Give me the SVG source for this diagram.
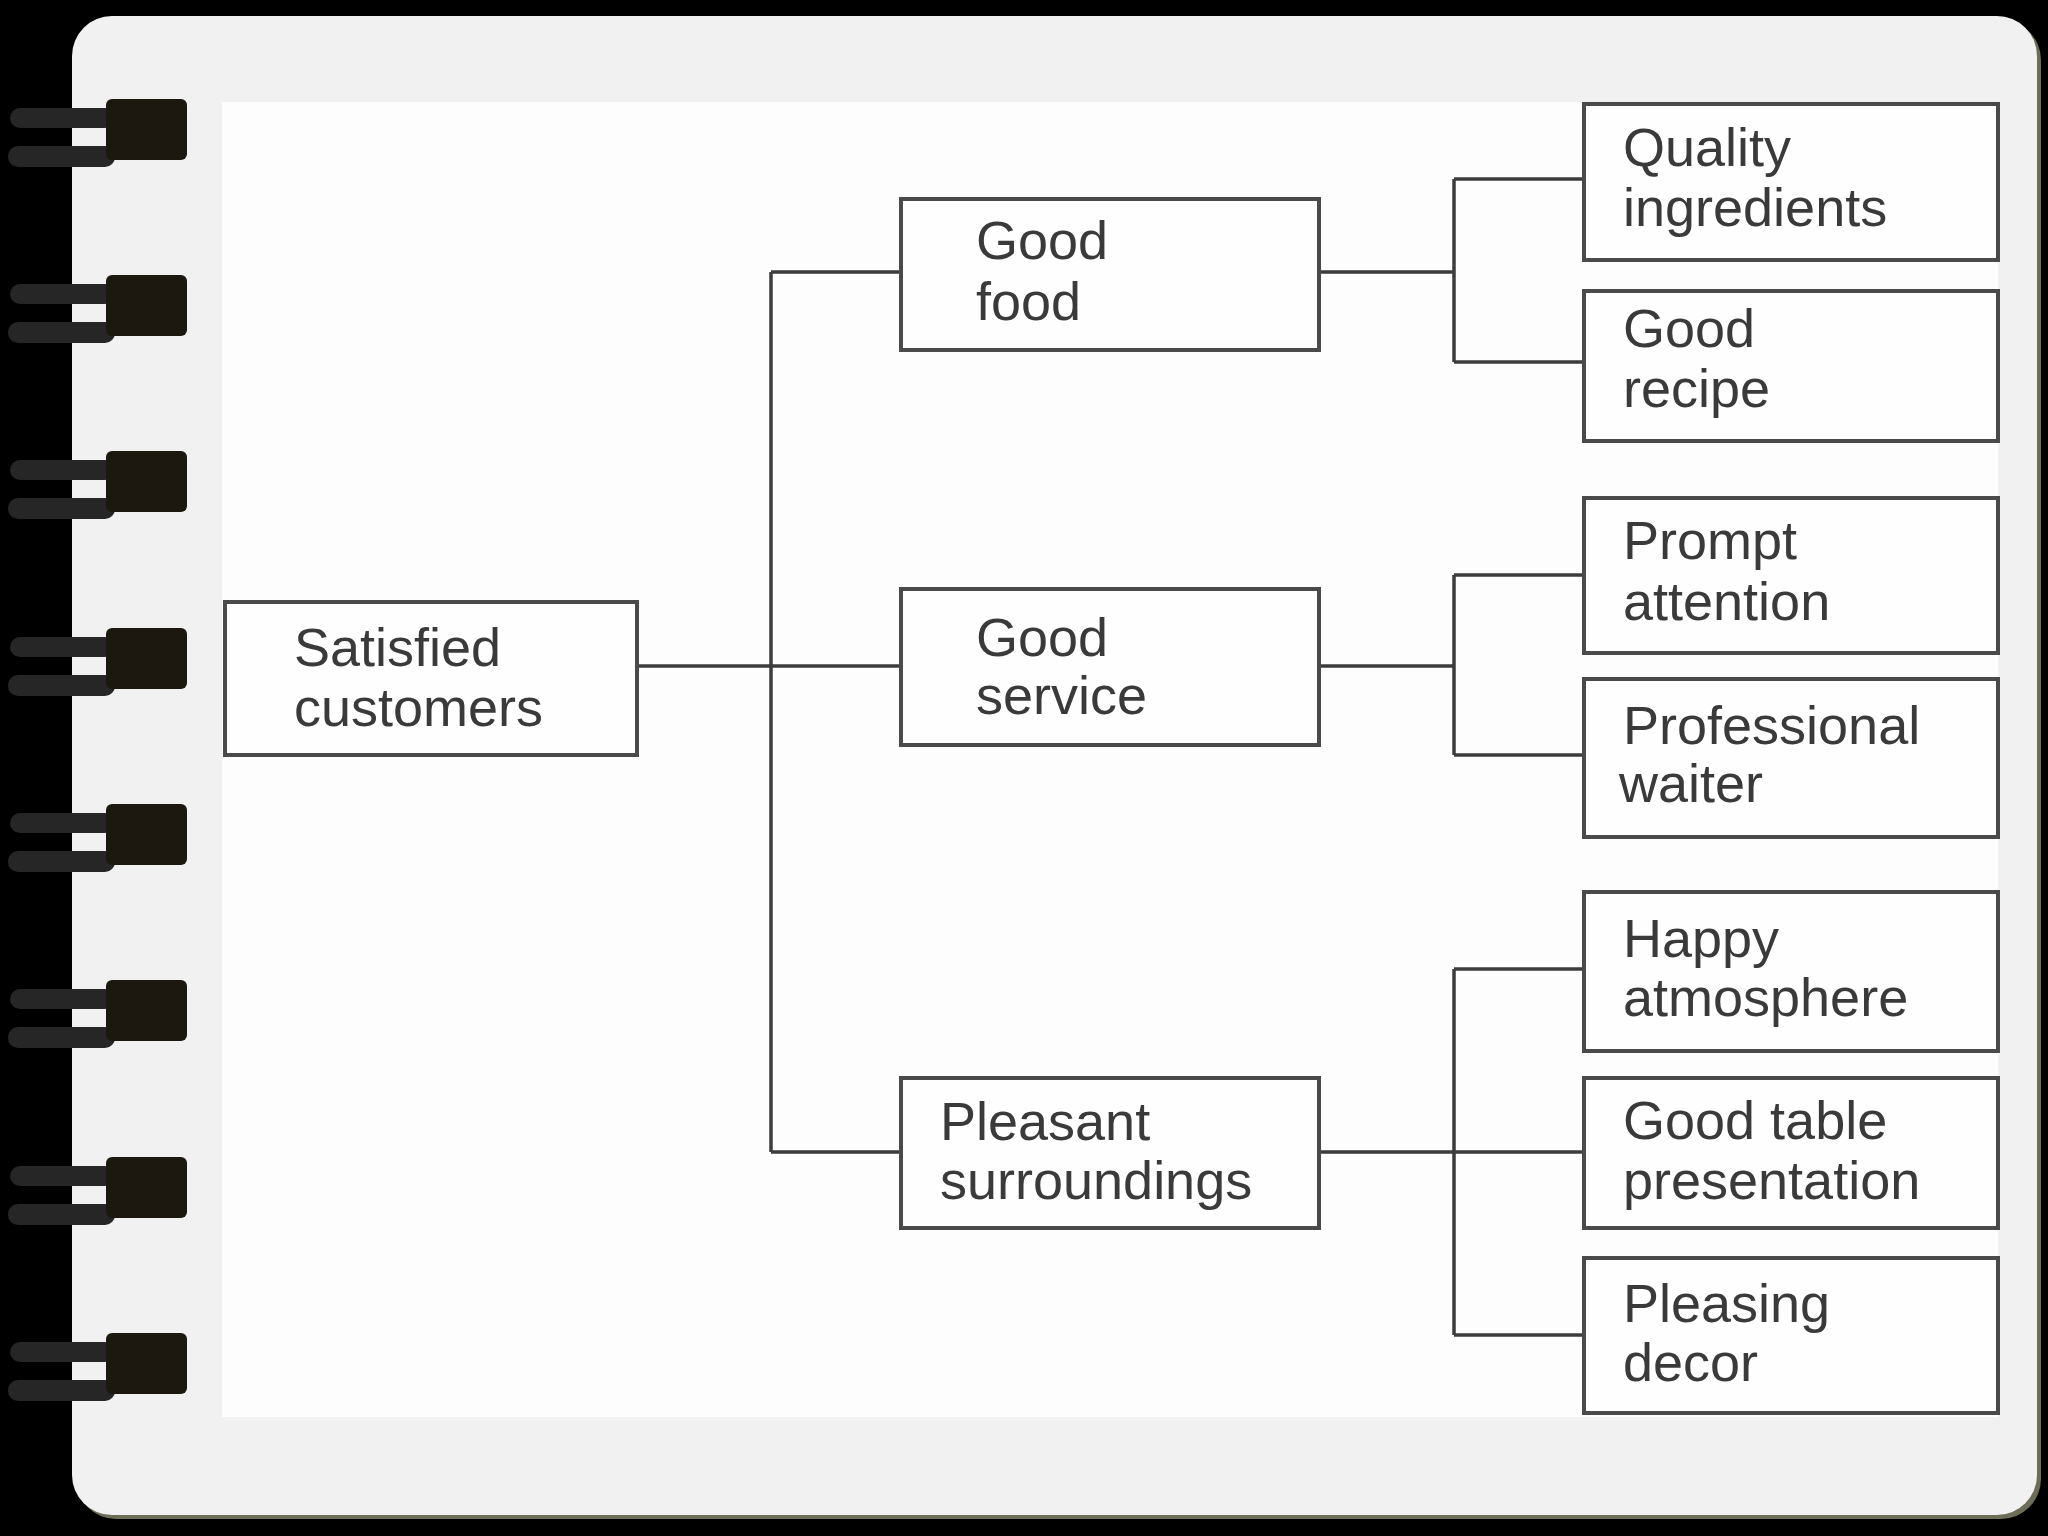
<svg xmlns="http://www.w3.org/2000/svg" width="2048" height="1536" viewBox="0 0 2048 1536">
<defs>
<style>
.box{fill:#fefefe;stroke:#4a4a4a;stroke-width:4}
.lbl{font-family:"Liberation Sans",Arial,sans-serif;font-size:54px;fill:#3a3a3a}
.conn{fill:none;stroke:#3c3c3c;stroke-width:3.5}
.blk{fill:#1c1810}
.prong{fill:#262626}
</style>
<g id="ring">
<rect class="prong" x="10" y="-23" width="105" height="20" rx="10"/>
<rect class="prong" x="8" y="15" width="107" height="21" rx="10"/>
<rect class="blk" x="106" y="-32" width="81" height="61" rx="6"/>
</g>
</defs>
<rect x="0" y="0" width="2048" height="1536" fill="#000"/>
<rect x="76" y="20" width="1965" height="1499" rx="40" fill="#6e6e58"/>
<rect x="72" y="16" width="1965" height="1499" rx="40" fill="#f1f1f1"/>
<rect x="222" y="102" width="1776" height="1315" fill="#fdfdfd"/>
<g id="rings">
<use href="#ring" y="131"/>
<use href="#ring" y="307"/>
<use href="#ring" y="483"/>
<use href="#ring" y="660"/>
<use href="#ring" y="836"/>
<use href="#ring" y="1012"/>
<use href="#ring" y="1189"/>
<use href="#ring" y="1365"/>
</g>
<g id="connectors">
<path class="conn" d="M637 666 H901"/>
<path class="conn" d="M771 272 V1152"/>
<path class="conn" d="M771 272 H901 M771 1152 H901"/>
<path class="conn" d="M1319 272 H1454 M1454 179 V362 M1454 179 H1584 M1454 362 H1584"/>
<path class="conn" d="M1319 666 H1454 M1454 575 V755 M1454 575 H1584 M1454 755 H1584"/>
<path class="conn" d="M1319 1152 H1584 M1454 969 V1335 M1454 969 H1584 M1454 1335 H1584"/>
</g>
<g id="n-satisfied"><rect class="box" x="225" y="602" width="412" height="153"/><text class="lbl" x="294" y="666">Satisfied</text><text class="lbl" x="294" y="726">customers</text></g>
<g id="n-food"><rect class="box" x="901" y="199" width="418" height="151"/><text class="lbl" x="976" y="259">Good</text><text class="lbl" x="976" y="320">food</text></g>
<g id="n-service"><rect class="box" x="901" y="589" width="418" height="156"/><text class="lbl" x="976" y="656">Good</text><text class="lbl" x="976" y="714">service</text></g>
<g id="n-pleasant"><rect class="box" x="901" y="1078" width="418" height="150"/><text class="lbl" x="940" y="1140">Pleasant</text><text class="lbl" x="940" y="1199">surroundings</text></g>
<g id="n-quality"><rect class="box" x="1584" y="104" width="414" height="156"/><text class="lbl" x="1623" y="166">Quality</text><text class="lbl" x="1623" y="226">ingredients</text></g>
<g id="n-recipe"><rect class="box" x="1584" y="291" width="414" height="150"/><text class="lbl" x="1623" y="347">Good</text><text class="lbl" x="1623" y="407">recipe</text></g>
<g id="n-prompt"><rect class="box" x="1584" y="498" width="414" height="155"/><text class="lbl" x="1623" y="559">Prompt</text><text class="lbl" x="1623" y="620">attention</text></g>
<g id="n-waiter"><rect class="box" x="1584" y="679" width="414" height="158"/><text class="lbl" x="1623" y="744">Professional</text><text class="lbl" x="1619" y="802">waiter</text></g>
<g id="n-happy"><rect class="box" x="1584" y="892" width="414" height="159"/><text class="lbl" x="1623" y="957">Happy</text><text class="lbl" x="1623" y="1016">atmosphere</text></g>
<g id="n-table"><rect class="box" x="1584" y="1078" width="414" height="150"/><text class="lbl" x="1623" y="1139">Good table</text><text class="lbl" x="1623" y="1199">presentation</text></g>
<g id="n-decor"><rect class="box" x="1584" y="1258" width="414" height="155"/><text class="lbl" x="1623" y="1322">Pleasing</text><text class="lbl" x="1623" y="1381">decor</text></g>
</svg>
